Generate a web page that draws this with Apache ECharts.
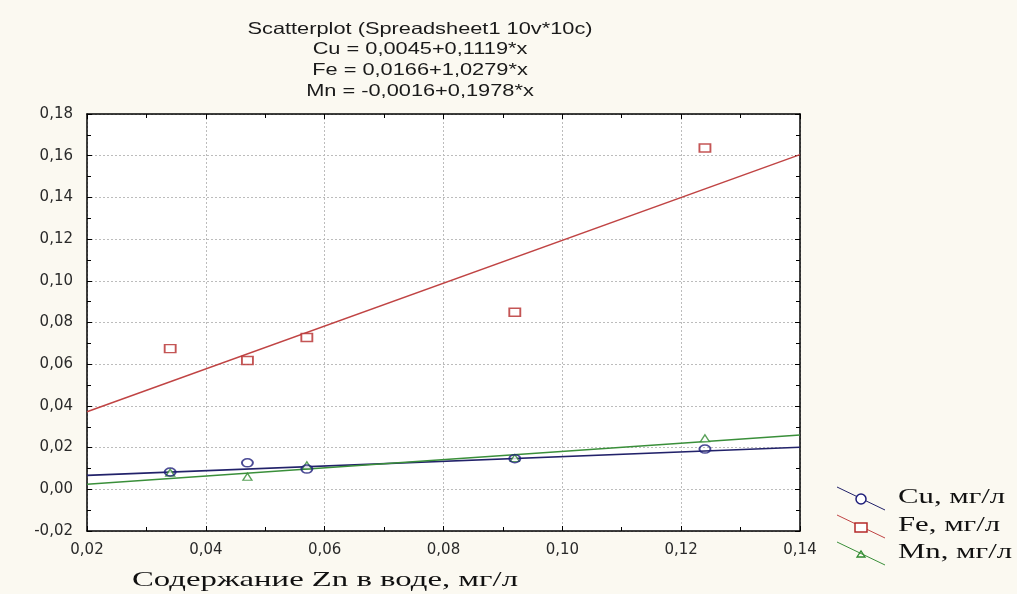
<!DOCTYPE html>
<html>
<head>
<meta charset="utf-8">
<script src="https://cdn.jsdelivr.net/npm/echarts@6/dist/echarts.min.js"></script>
<style>
html,body{margin:0;padding:0;background:#fbf9f1;}
#c{width:1017px;height:594px;}
</style>
</head>
<body>
<div id="c"></div>
<script>
// ---- data ----
var zn = [0.034, 0.047, 0.057, 0.092, 0.124];
var cu = [0.0083, 0.0127, 0.0097, 0.0147, 0.0193];
var fe = [0.0675, 0.0618, 0.0728, 0.0849, 0.1637];
var mn = [0.0080, 0.0060, 0.0115, 0.0150, 0.0245];
// fitted lines, endpoints at x = 0.02 and x = 0.14
var fitX = [0.02, 0.14];
var cuFit = [0.0067, 0.0202];
var feFit = [0.0372, 0.1605];
var mnFit = [0.0024, 0.0261];
var xTicks = ['0,02','0,04','0,06','0,08','0,10','0,12','0,14'];
var yTicks = ['-0,02','0,00','0,02','0,04','0,06','0,08','0,10','0,12','0,14','0,16','0,18'];
var titleLines = ['Scatterplot (Spreadsheet1 10v*10c)', 'Cu = 0,0045+0,1119*x', 'Fe = 0,0166+1,0279*x', 'Mn = -0,0016+0,1978*x'];
var legendNames = ['Cu, мг/л', 'Fe, мг/л', 'Mn, мг/л'];
var xTitle = 'Содержание Zn в воде, мг/л';

function pairs(xs, ys){ return xs.map(function(x,i){ return [x, ys[i]]; }); }
function tickLabel(arr, min, step){ return function(v){ var i = Math.round((v - min)/step); return arr[i] !== undefined ? arr[i] : ''; }; }

var colCu = '#1e1e7a', colFe = '#b52a2a', colMn = '#2f8a2f';
var colCuL = '#22226a', colFeL = '#c04444', colMnL = '#3a8f3a';

var chart = echarts.init(document.getElementById('c'), null, {renderer:'canvas'});

var gridLine = {show:true, lineStyle:{color:'#bcbcbc', type:[2,2], width:1}};
var axisFont = {fontFamily:'DejaVu Sans', fontSize:15, color:'#2a2a2a'};

var graphics = [];
var titleY = [29, 49, 70, 91];
titleLines.forEach(function(t, i){
  graphics.push({type:'text', x:420, y:titleY[i], scaleX:1.32, silent:true,
    style:{text:t, x:0, y:0, align:'center', verticalAlign:'middle', fontFamily:'Liberation Sans', fontSize:16.5, fill:'#1a1a1a'}});
});
graphics.push({type:'text', x:325, y:580, scaleX:1.56, silent:true,
  style:{text:xTitle, x:0, y:0, align:'center', verticalAlign:'middle', fontFamily:'Liberation Serif', fontSize:21, fill:'#111'}});

var legY = [498, 526, 553];
var legCols = [colCu, colFe, colMn];
var legLineCols = [colCuL, colFeL, colMnL];
legendNames.forEach(function(n, i){
  var cy = legY[i];
  graphics.push({type:'line', silent:true, shape:{x1:837, y1:cy-11, x2:885, y2:cy+12}, style:{stroke:legLineCols[i], lineWidth:1}});
  if (i === 0) graphics.push({type:'circle', silent:true, shape:{cx:861, cy:cy+1, r:5}, style:{fill:'#fff', stroke:legCols[i], lineWidth:1.5}});
  if (i === 1) graphics.push({type:'rect', silent:true, shape:{x:855, y:cy-3, width:12, height:9}, style:{fill:'#fff', stroke:legCols[i], lineWidth:1.5}});
  if (i === 2) graphics.push({type:'polygon', silent:true, shape:{points:[[857,cy+4],[861,cy-2],[865,cy+4]]}, style:{fill:'none', stroke:legCols[i], lineWidth:1.3}});
  graphics.push({type:'text', x:898, y:cy, scaleX:1.5, silent:true,
    style:{text:n, x:0, y:0, align:'left', verticalAlign:'middle', fontFamily:'Liberation Serif', fontSize:20.5, fill:'#111'}});
});

var option = {
  backgroundColor:'#fbf9f1',
  animation:false,
  grid:{left:87, right:217, top:114, bottom:63, show:true, backgroundColor:'#ffffff', borderWidth:0},
  xAxis:[{
    type:'value', min:0.02, max:0.14, interval:0.02, position:'bottom',
    axisLine:{show:true, onZero:false, lineStyle:{color:'#000', width:1.5}},
    axisTick:{show:true, inside:true, length:5, lineStyle:{color:'#000'}},
    minorTick:{show:true, splitNumber:2, length:4, lineStyle:{color:'#000'}},
    axisLabel:Object.assign({margin:12, formatter:tickLabel(xTicks, 0.02, 0.02)}, axisFont),
    splitLine:gridLine
  },{
    type:'value', min:0.02, max:0.14, interval:0.02, position:'top',
    axisLine:{show:true, onZero:false, lineStyle:{color:'#000', width:1.5}},
    axisTick:{show:true, inside:true, length:5, lineStyle:{color:'#000'}},
    minorTick:{show:true, splitNumber:2, length:4, lineStyle:{color:'#000'}},
    axisLabel:{show:false}, splitLine:{show:false}
  }],
  yAxis:[{
    type:'value', min:-0.02, max:0.18, interval:0.02, position:'left',
    axisLine:{show:true, onZero:false, lineStyle:{color:'#000', width:1.5}},
    axisTick:{show:true, inside:true, length:5, lineStyle:{color:'#000'}},
    minorTick:{show:true, splitNumber:2, length:4, lineStyle:{color:'#000'}},
    axisLabel:Object.assign({margin:14, formatter:tickLabel(yTicks, -0.02, 0.02)}, axisFont),
    splitLine:gridLine
  },{
    type:'value', min:-0.02, max:0.18, interval:0.02, position:'right',
    axisLine:{show:true, onZero:false, lineStyle:{color:'#000', width:1.5}},
    axisTick:{show:true, inside:true, length:5, lineStyle:{color:'#000'}},
    minorTick:{show:true, splitNumber:2, length:4, lineStyle:{color:'#000'}},
    axisLabel:{show:false}, splitLine:{show:false}
  }],
  graphic:graphics,
  series:[
    {name:'Fe fit', type:'line', data:pairs(fitX, feFit), symbol:'none', lineStyle:{color:colFeL, width:1.5}, silent:true},
    {name:'Cu fit', type:'line', data:pairs(fitX, cuFit), symbol:'none', lineStyle:{color:colCuL, width:1.6}, silent:true},
    {name:'Mn fit', type:'line', data:pairs(fitX, mnFit), symbol:'none', lineStyle:{color:colMnL, width:1.5}, silent:true},
    {name:'Mn, мг/л', type:'scatter', data:pairs(zn, mn), symbol:'triangle', symbolSize:[9,7],
      itemStyle:{color:'#fff', borderColor:colMn, borderWidth:1.3}, z:3},
    {name:'Cu, мг/л', type:'scatter', data:pairs(zn, cu), symbol:'circle', symbolSize:[11,8],
      itemStyle:{color:'rgba(255,255,255,0)', borderColor:colCu, borderWidth:1.7}, z:4},
    {name:'Fe, мг/л', type:'scatter', data:pairs(zn, fe), symbol:'rect', symbolSize:[11,8],
      itemStyle:{color:'#fff', borderColor:colFe, borderWidth:1.6}, z:4}
  ]
};
chart.setOption(option);
</script>
</body>
</html>
